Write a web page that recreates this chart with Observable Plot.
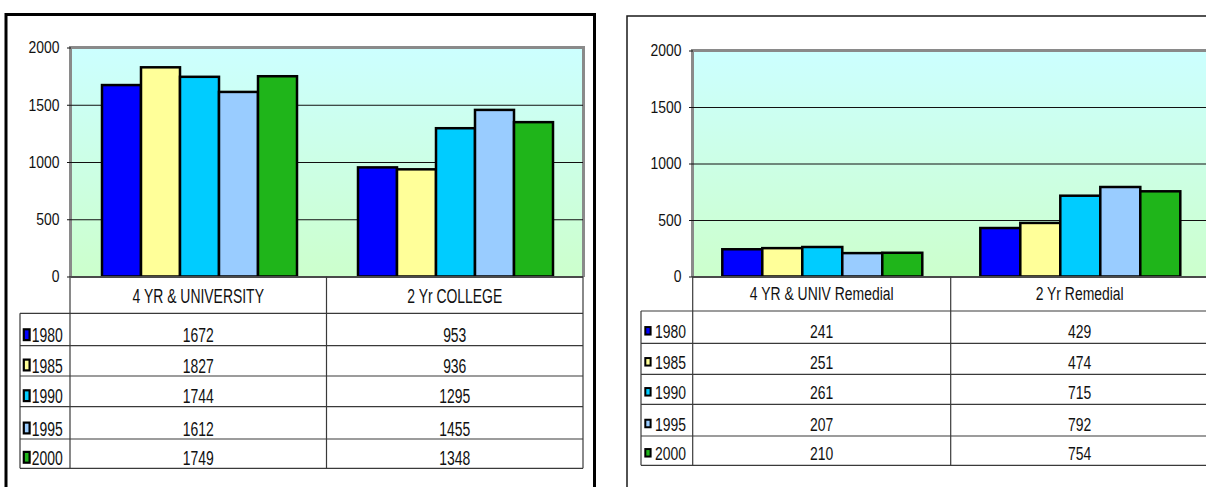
<!DOCTYPE html>
<html>
<head>
<meta charset="utf-8">
<script src="https://cdn.jsdelivr.net/npm/d3@7"></script>
<script src="https://cdn.jsdelivr.net/npm/@observablehq/plot@0.6"></script>
<style>
  html, body { margin: 0; padding: 0; background: #fff; overflow: hidden; }
  #page { position: relative; width: 1206px; height: 487px; overflow: hidden; background: #fff; }
  .plot-area { position: absolute; box-sizing: border-box; background: linear-gradient(#ccffff, #ccffcc);
               border: 3px solid #8a8a8a; border-bottom: none; }
  .holder { position: absolute; top: 0; }
  .holder svg { max-width: none !important; }
  #overlay { position: absolute; left: 0; top: 0; }
</style>
</head>
<body>
<div id="page"></div>
<script>
// Enrollment series, by year
const years = ["1980", "1985", "1990", "1995", "2000"];
const yearColors = ["#0000ff", "#ffff99", "#00ccff", "#99ccff", "#1fb51a"];

// Overall enrollment
const enrollCategories = ["4 YR & UNIVERSITY", "2 Yr COLLEGE"];
const enrollUniversity = [1672, 1827, 1744, 1612, 1749];
const enrollCollege = [953, 936, 1295, 1455, 1348];

// Remedial enrollment
const remedialCategories = ["4 YR & UNIV Remedial", "2 Yr Remedial"];
const remedialUniversity = [241, 251, 261, 207, 210];
const remedialCollege = [429, 474, 715, 792, 754];

// Value axis
const yTicks = [0, 500, 1000, 1500, 2000];

const FONT = "'Liberation Sans', Arial, sans-serif";
const NARROW = 0.82; // horizontal squeeze giving a condensed face

const panels = [
  {
    categories: enrollCategories,
    series: [enrollUniversity, enrollCollege],
    svgLeft: 0, svgWidth: 600,
    area: {left: 70, right: 583, top: 47.5, bottom: 276.5},
    outer: 0.735,
    border: {x: 6, y: 14.5, w: 588.5, h: 520, sw: 3, color: "#000"},
    table: {keyLeft: 20, headerBottom: 313.3, rowBottoms: [345.7, 376, 406.7, 439, 468.3],
            headerLift: 10, rowLift: 3.5, stretch: 1.22,
            key: {dx: 2.7, w: 8, h: 13, bw: 2.2}, labelX: 31.7}
  },
  {
    categories: remedialCategories,
    series: [remedialUniversity, remedialCollege],
    svgLeft: 620, svgWidth: 600,
    area: {left: 692.7, right: 1208.7, top: 50.5, bottom: 276.5},
    outer: 0.69,
    border: {x: 627, y: 16, w: 700, h: 600, sw: 1.5, color: "#1a1a1a"},
    table: {keyLeft: 641, headerBottom: 311, rowBottoms: [343.3, 374.3, 404.3, 436, 465.3],
            headerLift: 11, rowLift: 5, stretch: 1.12,
            key: {dx: 3.3, w: 7.3, h: 9.5, bw: 2}, labelX: 655}
  }
];

const page = document.getElementById("page");

// Gradient plot backgrounds sit behind the transparent chart SVGs
for (const p of panels) {
  const bg = document.createElement("div");
  bg.className = "plot-area";
  bg.style.left = (p.area.left - 1.5) + "px";
  bg.style.top = (p.area.top - 1.5) + "px";
  bg.style.width = (p.area.right - p.area.left + 3) + "px";
  bg.style.height = (p.area.bottom - p.area.top + 1.5) + "px";
  page.appendChild(bg);
}

// Squeeze a text horizontally about its right edge, keeping any translate it already has
function condense(node) {
  const tr = node.getAttribute("transform") || "";
  const m = tr.match(/translate\(\s*([-\d.e]+)[\s,]*([-\d.e]+)?\s*\)/);
  const tx = m ? +m[1] : 0;
  const ty = m && m[2] !== undefined ? +m[2] : 0;
  node.style.transformBox = "fill-box";
  node.style.transformOrigin = "100% 50%";
  node.style.transform = `translate(${tx}px, ${ty}px) scaleX(${NARROW})`;
}

// Clustered bar charts, one facet per category
for (const p of panels) {
  const rows = p.categories.flatMap((c, ci) =>
    years.map((yr, i) => ({category: c, year: yr, value: p.series[ci][i]})));
  const chart = Plot.plot({
    width: p.svgWidth,
    height: 290,
    marginLeft: p.area.left - p.svgLeft,
    marginRight: p.svgLeft + p.svgWidth - p.area.right,
    marginTop: p.area.top,
    marginBottom: 290 - p.area.bottom,
    style: {background: "transparent", fontFamily: FONT, fontSize: "17px", color: "#111", overflow: "visible", maxWidth: "none"},
    facet: {data: rows, x: "category"},
    fx: {domain: p.categories, padding: 0, axis: null, label: null},
    x: {domain: years, paddingInner: 0, paddingOuter: p.outer, axis: null},
    y: {domain: [0, 2000], ticks: yTicks, tickSize: 4, tickPadding: 8, label: null, tickFormat: d => String(d)},
    color: {domain: years, range: yearColors},
    marks: [
      Plot.ruleY(yTicks.slice(1, -1), {stroke: "#111", strokeWidth: 1}),
      Plot.barY(rows, {x: "year", y: "value", fill: "year", stroke: "#000", strokeWidth: 2.5}),
      Plot.ruleY([0], {stroke: "#4a4a4a", strokeWidth: 2})
    ]
  });
  chart.querySelectorAll("text").forEach(condense);
  const holder = document.createElement("div");
  holder.className = "holder";
  holder.style.left = p.svgLeft + "px";
  holder.style.width = p.svgWidth + "px";
  holder.appendChild(chart);
  page.appendChild(holder);
}

// Panel frames and data tables
const svg = d3.select(page).append("svg")
  .attr("id", "overlay")
  .attr("width", 1206).attr("height", 487)
  .style("font-family", FONT)
  .style("font-size", "17px");

for (const p of panels) {
  const t = p.table;
  const b = p.border;
  svg.append("rect")
    .attr("x", b.x).attr("y", b.y).attr("width", b.w).attr("height", b.h)
    .attr("fill", "none").attr("stroke", b.color).attr("stroke-width", b.sw);

  const colLeft = p.area.left;
  const colRight = p.area.right;
  const mid = (colLeft + colRight) / 2;
  const last = t.rowBottoms[t.rowBottoms.length - 1];
  const lines = svg.append("g").attr("stroke", "#3a3a3a").attr("stroke-width", 1.2);

  // horizontal rules
  lines.append("line").attr("x1", t.keyLeft).attr("x2", colRight)
    .attr("y1", t.headerBottom).attr("y2", t.headerBottom);
  for (const yb of t.rowBottoms) {
    lines.append("line").attr("x1", t.keyLeft).attr("x2", colRight).attr("y1", yb).attr("y2", yb);
  }
  // vertical rules
  lines.append("line").attr("x1", t.keyLeft).attr("x2", t.keyLeft).attr("y1", t.headerBottom).attr("y2", last);
  for (const x of [colLeft, mid, colRight]) {
    lines.append("line").attr("x1", x).attr("x2", x).attr("y1", p.area.bottom).attr("y2", last);
  }

  const text = (x, y, s, anchor, k) =>
    svg.append("text")
      .attr("transform", `translate(${x},${y}) scale(${NARROW},${k})`)
      .attr("text-anchor", anchor)
      .attr("fill", "#111")
      .text(s);

  // header row with category names
  const colCenters = [(colLeft + mid) / 2, (mid + colRight) / 2];
  p.categories.forEach((c, ci) => text(colCenters[ci], t.headerBottom - t.headerLift, c, "middle", t.stretch));

  // one row per year: legend key, year, values
  years.forEach((yr, i) => {
    const base = t.rowBottoms[i] - t.rowLift;
    const k = t.key;
    const cy = base - 7.5;
    svg.append("rect")
      .attr("x", t.keyLeft + k.dx).attr("y", cy - k.h / 2).attr("width", k.w).attr("height", k.h)
      .attr("fill", "#000");
    svg.append("rect")
      .attr("x", t.keyLeft + k.dx + k.bw).attr("y", cy - k.h / 2 + k.bw)
      .attr("width", k.w - 2 * k.bw).attr("height", k.h - 2 * k.bw)
      .attr("fill", yearColors[i]);
    text(t.labelX, base, yr, "start", t.stretch);
    p.series.forEach((s, ci) => text(colCenters[ci], base, String(s[i]), "middle", t.stretch));
  });
}
</script>
</body>
</html>
